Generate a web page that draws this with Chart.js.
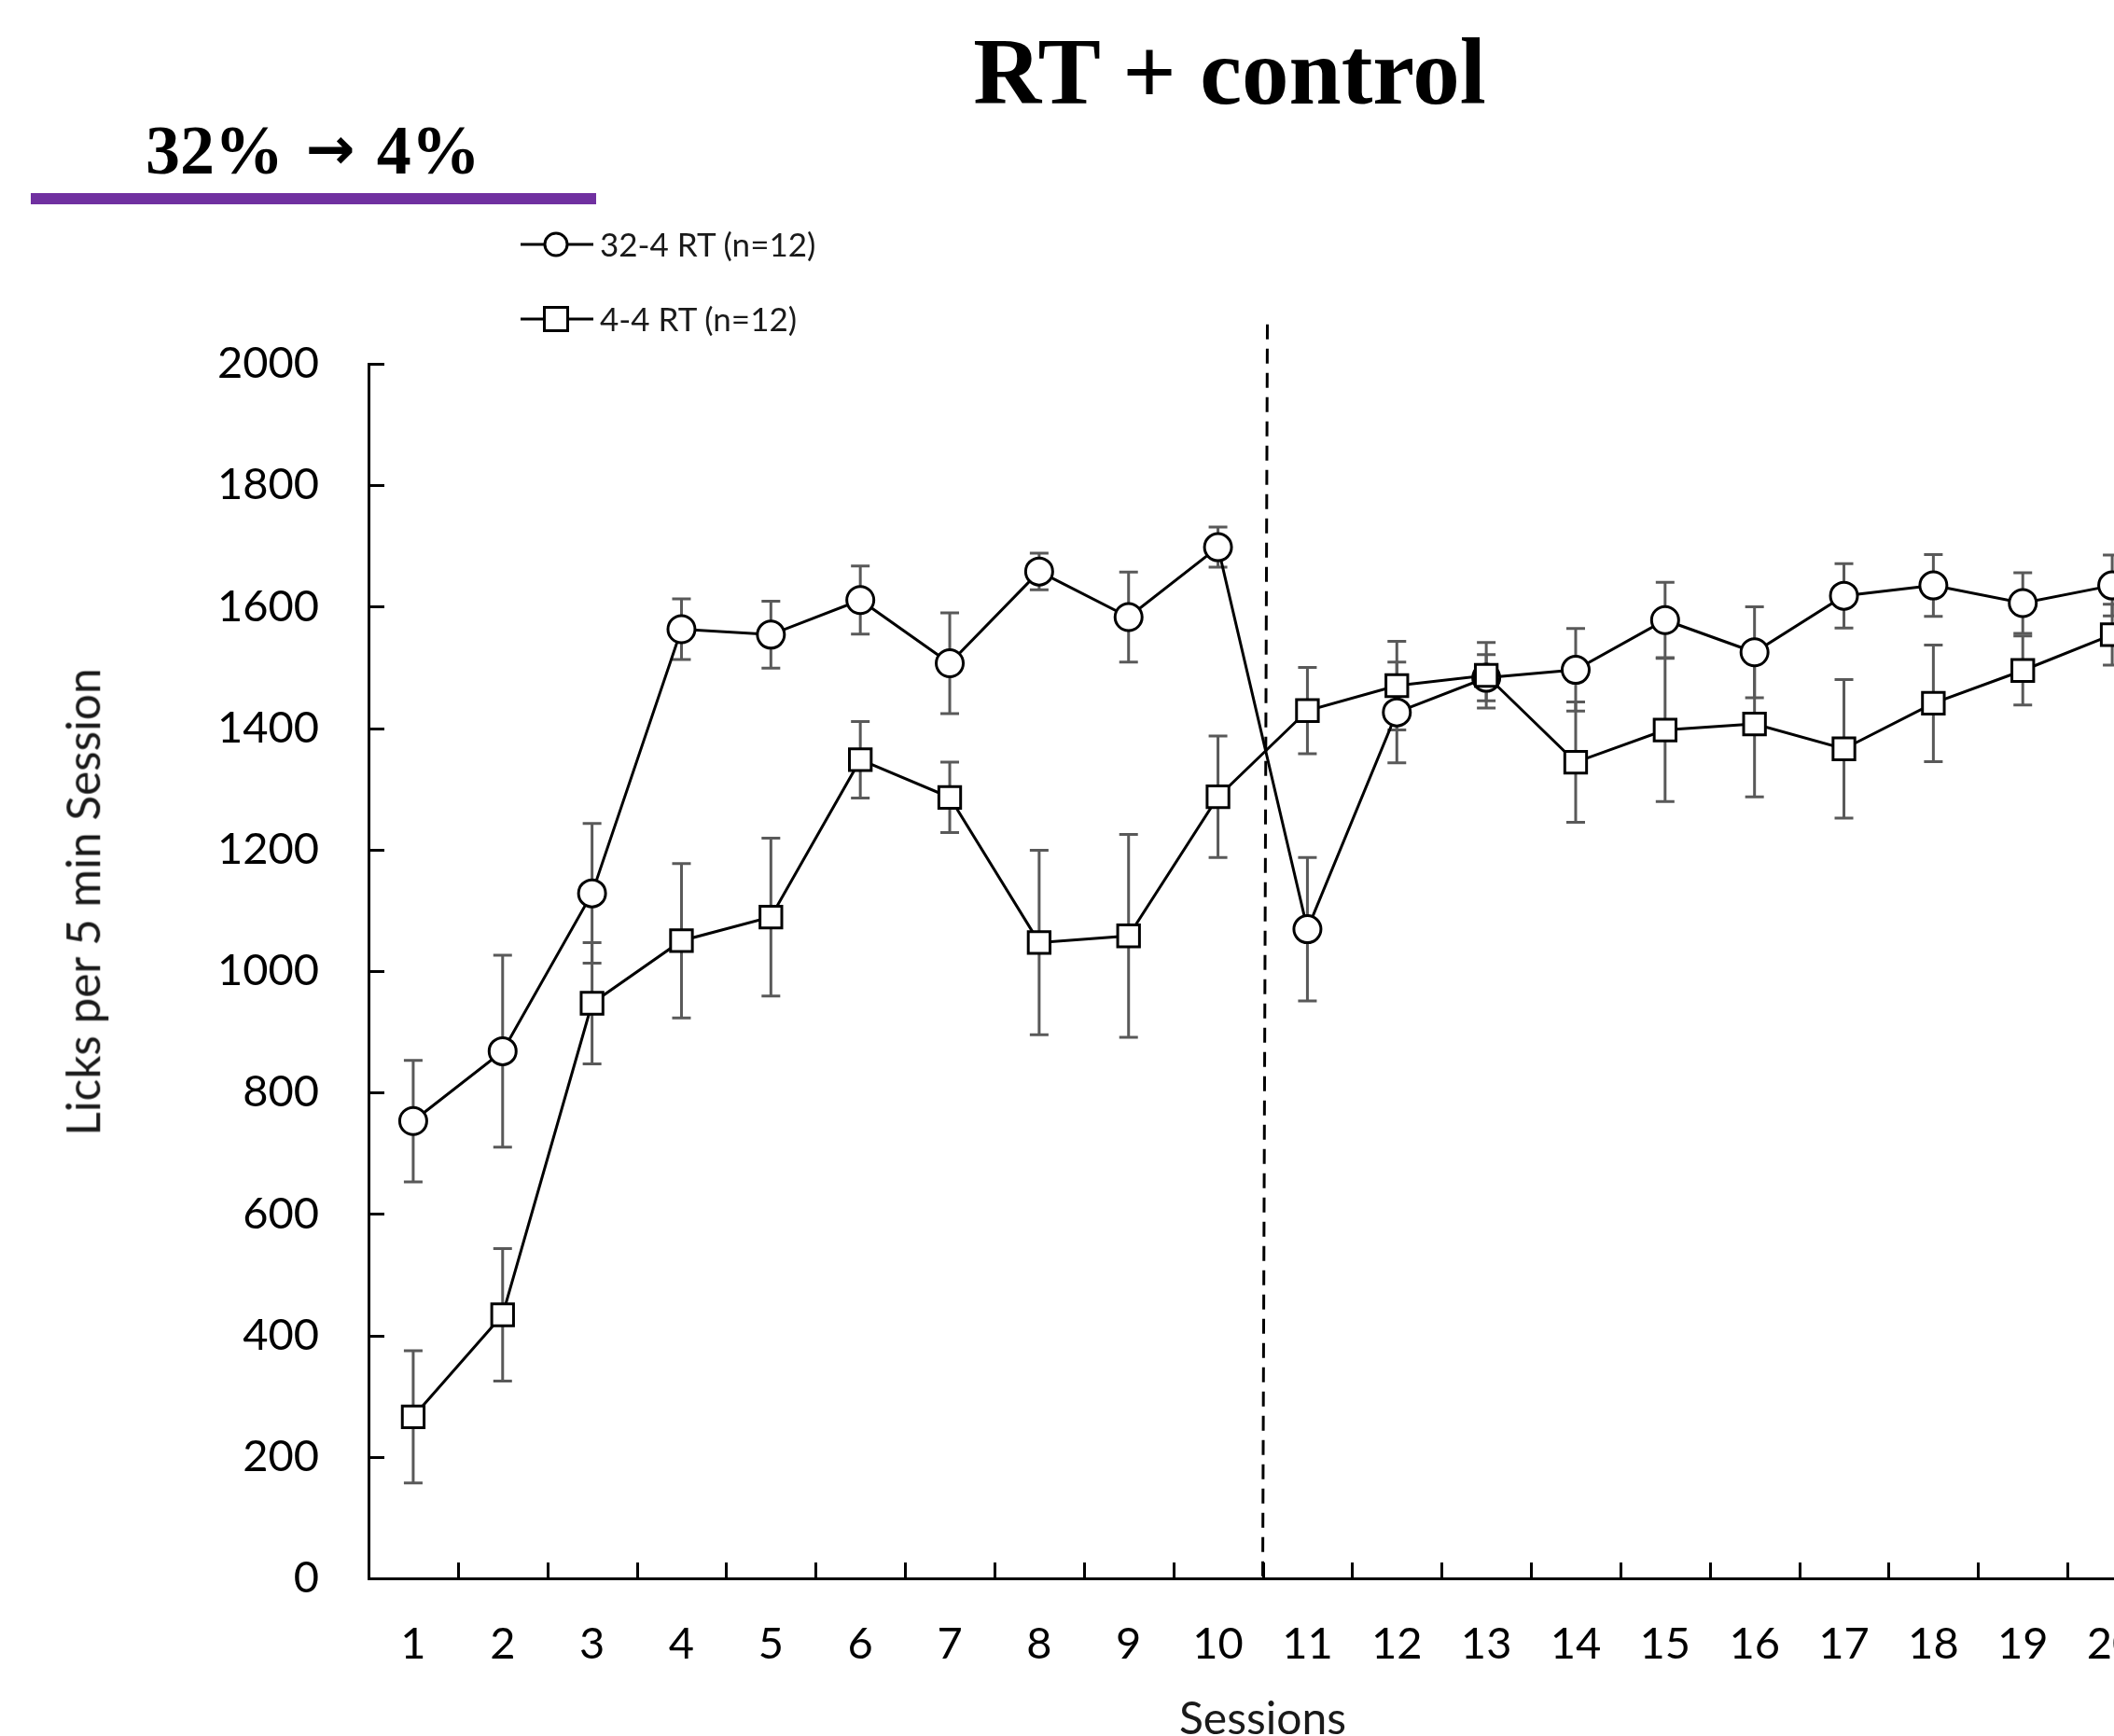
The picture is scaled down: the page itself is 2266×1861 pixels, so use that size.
<!DOCTYPE html>
<html>
<head>
<meta charset="utf-8">
<script src="https://cdn.jsdelivr.net/npm/chart.js@4.4.1/dist/chart.umd.min.js"></script>
<style>
  html, body { margin: 0; padding: 0; background: #fff; }
  #frame { position: relative; width: 2266px; height: 1861px; overflow: hidden; background: #fff; }
  #chart { position: absolute; left: 0; top: 0; }
  .title { position: absolute; font-family: "Liberation Serif", "Times New Roman", serif; font-weight: bold; color: #000; white-space: nowrap; line-height: 1; }
  #mainTitle { font-size: 101px; left: 1318px; top: 27px; transform: translateX(-50%); }
  #subTitle { font-size: 74px; left: 156px; top: 124px; }
  #subTitle .arrow { font-family: "DejaVu Sans", sans-serif; font-weight: bold; font-size: 63px; position: relative; top: -5px; margin-left: 5px; }
  #subTitle .after { margin-left: 5px; }
  #purpleBar { position: absolute; left: 33px; top: 207px; width: 606px; height: 12px; background: #7030A0; }
  .legText { position: absolute; font-family: Lato, "Open Sans", sans-serif; font-size: 35px; line-height: 40px; color: #1a1a1a; white-space: nowrap; }
  .legSym { position: absolute; }
  #yTitle { position: absolute; left: 89px; top: 967px; transform: translate(-50%, -50%) rotate(-90deg);
            font-family: Lato, "Open Sans", sans-serif; font-size: 49.5px; line-height: 1.2; color: #1a1a1a; white-space: nowrap; }
</style>
</head>
<body>
<div id="frame">
  <canvas id="chart" width="2360" height="1900"></canvas>
  <div id="mainTitle" class="title">RT + control</div>
  <div id="subTitle" class="title"><span>32% </span><span class="arrow">→</span><span class="after"> 4%</span></div>
  <div id="purpleBar"></div>
  <svg class="legSym" style="left:556px; top:247px" width="82" height="30">
    <line x1="2" y1="15" x2="80" y2="15" stroke="#000" stroke-width="3"/>
    <circle cx="40" cy="15" r="12" fill="#fff" stroke="#000" stroke-width="3"/>
  </svg>
  <div class="legText" id="leg1" style="left:643px; top:241px"></div>
  <svg class="legSym" style="left:556px; top:327px" width="82" height="30">
    <line x1="2" y1="15" x2="80" y2="15" stroke="#000" stroke-width="3"/>
    <rect x="27.5" y="2.5" width="25" height="25" fill="#fff" stroke="#000" stroke-width="3"/>
  </svg>
  <div class="legText" id="leg2" style="left:643px; top:321px"></div>
  <div id="yTitle"></div>
</div>
<script>
// ---------------- data ----------------
const sessions = ['1','2','3','4','5','6','7','8','9','10','11','12','13','14','15','16','17','18','19','20'];
const seriesNames = ['32-4 RT (n=12)', '4-4 RT (n=12)'];
const rt32Mean = [753, 868, 1128, 1563, 1554, 1611, 1507, 1658, 1583, 1698, 1069, 1426, 1483, 1496, 1578, 1525, 1618, 1635, 1606, 1635];
const rt32Err  = [100, 158, 115, 50, 55, 56, 83, 30, 74, 33, 118, 83, 38, 68, 62, 75, 53, 51, 50, 50];
const rt4Mean  = [266, 434, 947, 1050, 1089, 1348, 1286, 1047, 1058, 1287, 1429, 1470, 1487, 1344, 1397, 1407, 1366, 1441, 1495, 1554];
const rt4Err   = [109, 109, 100, 127, 130, 63, 58, 152, 167, 100, 71, 73, 54, 99, 118, 120, 114, 96, 57, 50];
const yTickValues = [0, 200, 400, 600, 800, 1000, 1200, 1400, 1600, 1800, 2000];
const yAxisTitle = 'Licks per 5 min Session';
const xAxisTitle = 'Sessions';
const shiftAfterSession = 10;     // dashed line between session 10 and 11
const shiftLineTopValue = 2065;   // top of dashed line in y units

document.getElementById('leg1').textContent = seriesNames[0];
document.getElementById('leg2').textContent = seriesNames[1];
document.getElementById('yTitle').textContent = yAxisTitle;

const FONT = 'Lato, "Open Sans", sans-serif';

// error bars + dashed phase line drawn underneath the lines/markers
const errorBarPlugin = {
  id: 'errorBars',
  beforeDatasetsDraw(chart) {
    const ctx = chart.ctx, xs = chart.scales.x, ys = chart.scales.y;
    ctx.save();
    ctx.strokeStyle = '#595959';
    ctx.lineWidth = 3;
    chart.data.datasets.forEach(ds => {
      ds.data.forEach((v, i) => {
        const e = ds.errors[i];
        const x = xs.getPixelForValue(i);
        const yt = ys.getPixelForValue(v + e);
        const yb = ys.getPixelForValue(v - e);
        ctx.beginPath();
        ctx.moveTo(x, yt); ctx.lineTo(x, yb);
        ctx.moveTo(x - 10, yt); ctx.lineTo(x + 10, yt);
        ctx.moveTo(x - 10, yb); ctx.lineTo(x + 10, yb);
        ctx.stroke();
      });
    });
    const n = chart.data.labels.length;
    const step = (xs.right - xs.left) / n;
    const xd = xs.left + shiftAfterSession * step;
    ctx.strokeStyle = '#000';
    ctx.lineWidth = 3;
    ctx.setLineDash([16, 10]);
    ctx.beginPath();
    ctx.moveTo(xd + 5, ys.getPixelForValue(shiftLineTopValue));
    ctx.lineTo(xd, ys.getPixelForValue(0));
    ctx.stroke();
    ctx.restore();
  }
};

// inward tick marks
const innerTicksPlugin = {
  id: 'innerTicks',
  afterDraw(chart) {
    const ctx = chart.ctx, xs = chart.scales.x, ys = chart.scales.y;
    ctx.save();
    ctx.strokeStyle = '#000';
    ctx.lineWidth = 3;
    ctx.beginPath();
    yTickValues.forEach(v => {
      if (v === 0) return;
      const y = Math.round(ys.getPixelForValue(v)) + 0.5;
      ctx.moveTo(ys.right, y); ctx.lineTo(ys.right + 17, y);
    });
    const n = chart.data.labels.length;
    const step = (xs.right - xs.left) / n;
    for (let k = 1; k <= n; k++) {
      const x = Math.round(xs.left + k * step) + 0.5;
      ctx.moveTo(x, xs.top); ctx.lineTo(x, xs.top - 17);
    }
    ctx.stroke();
    ctx.restore();
  }
};

new Chart(document.getElementById('chart'), {
  type: 'line',
  data: {
    labels: sessions,
    datasets: [
      {
        label: seriesNames[0], data: rt32Mean, errors: rt32Err, order: 2,
        borderColor: '#000', borderWidth: 3, tension: 0,
        pointStyle: 'circle', pointRadius: 14.5, pointBorderWidth: 3,
        pointBackgroundColor: '#fff', pointBorderColor: '#000'
      },
      {
        label: seriesNames[1], data: rt4Mean, errors: rt4Err, order: 1,
        borderColor: '#000', borderWidth: 3, tension: 0,
        pointStyle: 'rect', pointRadius: 16.5, pointBorderWidth: 3,
        pointBackgroundColor: '#fff', pointBorderColor: '#000'
      }
    ]
  },
  options: {
    responsive: false,
    animation: false,
    devicePixelRatio: 1,
    layout: { padding: { top: 390, left: 0, right: 48, bottom: 0 } },
    plugins: { legend: { display: false }, tooltip: { enabled: false }, title: { display: false } },
    scales: {
      x: {
        type: 'category', offset: true,
        grid: { display: false, drawTicks: false },
        border: { display: true, color: '#000', width: 3 },
        ticks: { font: { family: FONT, size: 47 }, color: '#000', padding: 43, maxRotation: 0, autoSkip: false },
        title: { display: true, text: xAxisTitle, font: { family: FONT, size: 48 }, color: '#1a1a1a', padding: { top: 0, bottom: 28 } },
        afterFit(scale) { scale.height = 208; }
      },
      y: {
        min: 0, max: 2000,
        grid: { display: false, drawTicks: false },
        border: { display: true, color: '#000', width: 3 },
        afterBuildTicks(scale) { scale.ticks = yTickValues.map(v => ({ value: v })); },
        ticks: { font: { family: FONT, size: 47 }, color: '#000', padding: 53, callback: v => String(v) },
        title: { display: false },
        afterFit(scale) { scale.width = 395; }
      }
    }
  },
  plugins: [errorBarPlugin, innerTicksPlugin]
});
</script>
</body>
</html>
